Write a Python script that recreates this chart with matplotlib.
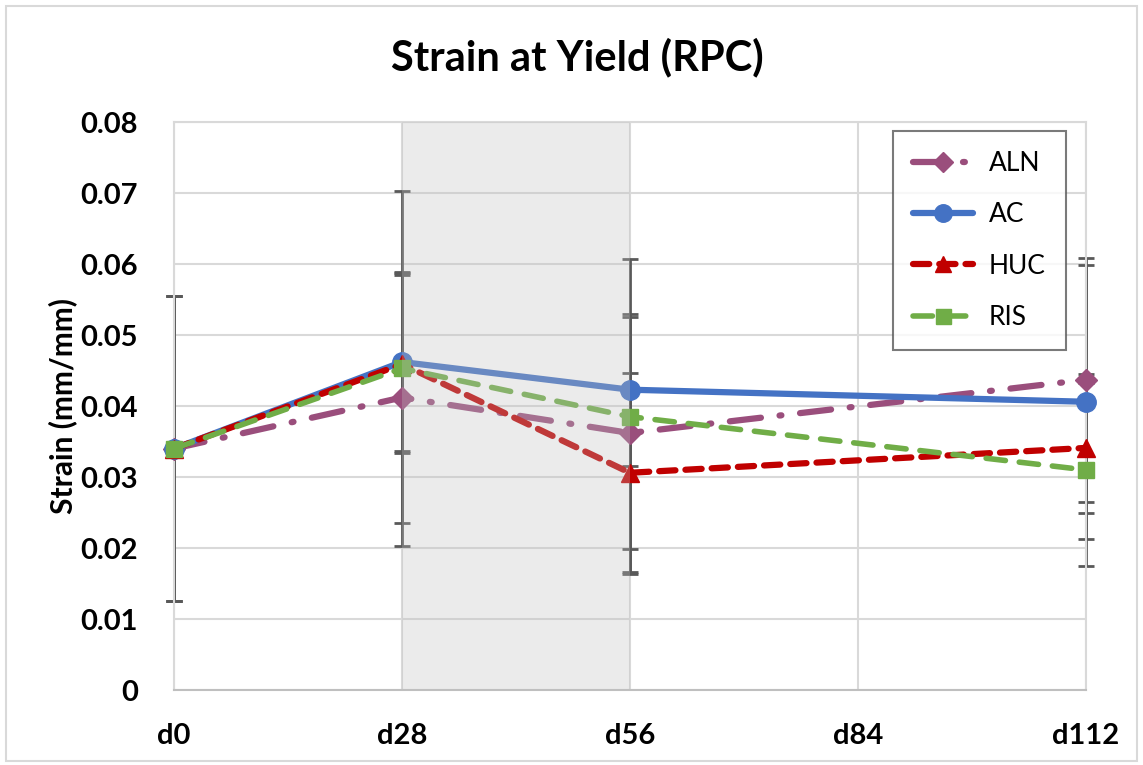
import matplotlib
matplotlib.use("Agg")
import matplotlib.pyplot as plt
from matplotlib.patches import Rectangle

plt.rcParams['font.family'] = ['Lato', 'DejaVu Sans']

days = ["d0", "d28", "d56", "d84", "d112"]
series_names = ["ALN", "AC", "HUC", "RIS"]

# mean strain at yield per time point (None = not measured)
aln = [0.0340, 0.0412, 0.0362, None, 0.0437]
ac = [0.0340, 0.0462, 0.0423, None, 0.0406]
huc = [0.0340, 0.0459, 0.0306, None, 0.0341]
ris = [0.0340, 0.0453, 0.0385, None, 0.0310]

# standard deviations
aln_err = [0.0215, 0.0177, 0.0163, None, 0.0172]
ac_err = [0.0215, 0.0125, 0.0107, None, 0.0193]
huc_err = [0.0215, 0.0125, 0.0140, None, 0.0092]
ris_err = [0.0215, 0.0250, 0.0222, None, 0.0135]

styles = {
    "ALN": dict(color="#9A4E7C", marker="D", ms=11, lw=4.5, dashes=(5, 3, 0.3, 3)),
    "AC": dict(color="#4472C4", marker="o", ms=14, lw=4.5, dashes=None),
    "HUC": dict(color="#C00000", marker="^", ms=13, lw=4.5, dashes=(2.6, 1.6)),
    "RIS": dict(color="#70AD47", marker="s", ms=12, lw=4.0, dashes=(3.5, 2.5)),
}

fig = plt.figure(figsize=(11.43, 7.65), dpi=100)
ax = fig.add_axes([0.1522, 0.098, 0.7978, 0.7425])

x_all = list(range(len(days)))
values = {"ALN": aln, "AC": ac, "HUC": huc, "RIS": ris}
errors = {"ALN": aln_err, "AC": ac_err, "HUC": huc_err, "RIS": ris_err}

handles = []
for name in series_names:
    st = styles[name]
    xs = [x for x, v in zip(x_all, values[name]) if v is not None]
    ys = [v for v in values[name] if v is not None]
    es = [e for e in errors[name] if e is not None]
    eb = ax.errorbar(xs, ys, yerr=es, fmt="none", ecolor="#595959", elinewidth=2,
                     capsize=6, capthick=2, zorder=2)
    for art in eb.lines[1] + eb.lines[2]:
        art.set_clip_on(False)
    line, = ax.plot(xs, ys, color=st["color"], lw=st["lw"], marker=st["marker"],
                    ms=st["ms"], mec=st["color"], mfc=st["color"],
                    solid_capstyle="round", dash_capstyle="round", zorder=3,
                    label=name, clip_on=False)
    if st["dashes"] is not None:
        line.set_dashes(st["dashes"])
    handles.append(line)

# shaded window between d28 and d56
ax.axvspan(1, 2, color="#BFBFBF", alpha=0.3, lw=0, zorder=4)

ax.set_xlim(0, 4)
ax.set_ylim(0, 0.08)
ax.set_xticks(x_all)
ax.set_xticklabels(days)
ax.set_yticks([0, 0.01, 0.02, 0.03, 0.04, 0.05, 0.06, 0.07, 0.08])
ax.set_yticklabels(["0", "0.01", "0.02", "0.03", "0.04", "0.05", "0.06", "0.07", "0.08"])
ax.tick_params(length=0, labelsize=21)
ax.tick_params(axis="y", pad=26)
ax.tick_params(axis="x", pad=24)
for lab in ax.get_xticklabels() + ax.get_yticklabels():
    lab.set_fontweight("bold")

ax.grid(True, color="#D9D9D9", lw=1.5, zorder=0)
ax.set_axisbelow(True)
for side in ["left", "right", "top"]:
    ax.spines[side].set_color("#D9D9D9")
    ax.spines[side].set_linewidth(1.5)
ax.spines["bottom"].set_color("#BFBFBF")
ax.spines["bottom"].set_linewidth(1.5)

ax.set_ylabel("Strain (mm/mm)", fontsize=21.5, fontweight="bold", va="center")
ax.yaxis.set_label_coords(-0.122, 0.5)
fig.text(0.505, 0.925, "Strain at Yield (RPC)", ha="center", va="center",
         fontsize=30, fontweight="bold")

leg = ax.legend(handles=handles, loc="upper right", bbox_to_anchor=(0.978, 0.984),
                fontsize=19, frameon=True, fancybox=False, labelspacing=1.0,
                handlelength=2.3, handletextpad=0.6, borderpad=0.75,
                borderaxespad=0, markerscale=0.9)
leg.get_frame().set_edgecolor("#595959")
leg.get_frame().set_linewidth(1.5)
leg.set_zorder(6)

# outer chart border
fig.patches.append(Rectangle((0.005, 0.005), 0.99, 0.987, transform=fig.transFigure,
                             fill=False, edgecolor="#D9D9D9", lw=1.5))

fig.savefig("out.png", dpi=100)
